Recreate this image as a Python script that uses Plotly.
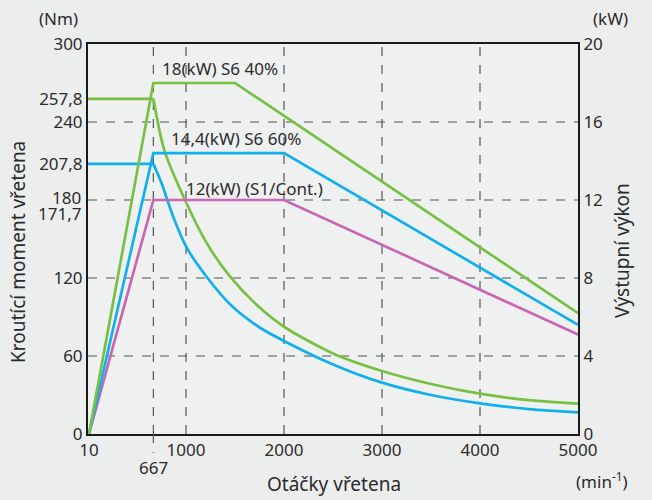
import plotly.graph_objects as go

# ---- data ----
x_ticks = [10, 1000, 2000, 3000, 4000, 5000]
x_tick_text = ["10", "1000", "2000", "3000", "4000", "5000"]
x_special = 667
x_grid = [667, 1000, 2000, 3000, 4000]

y_ticks = [0, 60, 120, 207.8, 240, 257.8, 300]
y_tick_text = ["0", "60", "120", "207,8", "240", "257,8", "300"]
y_close_ticks = [180, 171.7]
y_close_text = ["180", "171,7"]
y_grid = [60, 120, 180, 240]

y2_ticks = [0, 4, 8, 12, 16, 20]

# torque curves (Nm)
torque40_x = [0, 667, 780, 990, 1210, 1450, 1740, 2000, 2500, 3000, 3500, 4000, 4500, 5000]
torque40_y = [257.8, 257.8, 218, 180, 147, 121, 98, 82.5, 62, 48.5, 38.5, 31, 26, 23.3]
torque60_x = [0, 667, 750, 870, 1010, 1210, 1460, 1740, 2040, 2500, 3000, 3500, 4000, 4500, 5000]
torque60_y = [207.8, 207.8, 193, 167, 143, 121, 99, 82.5, 70, 53.5, 39.5, 30, 23.6, 19.2, 16.7]

# power curves (kW)
power40_x = [10, 667, 1500, 5000]
power40_y = [0, 18, 18, 6.2]
power60_x = [10, 667, 2000, 5000]
power60_y = [0, 14.4, 14.4, 5.6]
powerS1_x = [10, 667, 2000, 5000]
powerS1_y = [0, 12, 12, 5.1]

GREEN = "#78c043"
BLUE = "#11afec"
PINK = "#c966b4"
TXT = "#2b2b2b"
BG = "#eceeee"
FONT = "Noto Sans"

# plot-area geometry in pixels (for converting annotation positions)
L, R, T, B = 88, 578, 44, 434
W, H = R - L, B - T


def px(x):
    return (x - L) / W


def py(y):
    return (B - y) / H


fig = go.Figure()

lw = 2.7
for tx, ty, col in [(torque40_x, torque40_y, GREEN), (torque60_x, torque60_y, BLUE)]:
    fig.add_trace(go.Scatter(x=tx[:2], y=ty[:2], mode="lines", line=dict(color=col, width=lw)))
    fig.add_trace(go.Scatter(x=tx[1:], y=ty[1:], mode="lines",
                             line=dict(color=col, width=lw, shape="spline", smoothing=0.8)))
fig.add_trace(go.Scatter(x=powerS1_x, y=powerS1_y, mode="lines", yaxis="y2",
                         line=dict(color=PINK, width=lw)))
fig.add_trace(go.Scatter(x=power60_x, y=power60_y, mode="lines", yaxis="y2",
                         line=dict(color=BLUE, width=lw)))
fig.add_trace(go.Scatter(x=power40_x, y=power40_y, mode="lines", yaxis="y2",
                         line=dict(color=GREEN, width=lw)))

shapes = []
for gx in x_grid:
    shapes.append(dict(type="line", xref="x", yref="y", x0=gx, x1=gx, y0=0, y1=300,
                       line=dict(color="#555", width=1.2, dash="dash"), layer="below"))
for gy in y_grid:
    shapes.append(dict(type="line", xref="x", yref="y", x0=0, x1=5000, y0=gy, y1=gy,
                       line=dict(color="#555", width=1.2, dash="dash"), layer="below"))
# leader below the axis for 667
shapes.append(dict(type="line", xref="x", yref="paper", x0=x_special, x1=x_special, y0=0, y1=py(453),
                   line=dict(color="#555", width=1.2, dash="dash")))

f17 = dict(size=17, color=TXT, family=FONT)
f19 = dict(size=19, color=TXT, family=FONT)
annotations = [
    dict(text="18(kW) S6 40%", x=735, y=281.5, xref="x", yref="y", xanchor="left", yanchor="middle",
         showarrow=False, font=f17),
    dict(text="14,4(kW) S6 60%", x=827, y=227, xref="x", yref="y", xanchor="left", yanchor="middle",
         showarrow=False, font=f17),
    dict(text="12(kW) (S1/Cont.)", x=980, y=189, xref="x", yref="y", xanchor="left", yanchor="middle",
         showarrow=False, font=f17),
    dict(text=str(x_special), x=x_special, y=py(468), xref="x", yref="paper", xanchor="center",
         yanchor="middle", showarrow=False, font=f17),
    dict(text="(Nm)", x=px(58), y=py(18), xref="paper", yref="paper", xanchor="center",
         yanchor="middle", showarrow=False, font=f17),
    dict(text="(kW)", x=px(610), y=py(18), xref="paper", yref="paper", xanchor="center",
         yanchor="middle", showarrow=False, font=f17),
    dict(text="(min<sup>-1</sup>)", x=px(602), y=py(480), xref="paper", yref="paper",
         xanchor="center", yanchor="middle", showarrow=False, font=f17),
    dict(text="Kroutící moment vřetena", x=px(18), y=py(252), xref="paper", yref="paper",
         xanchor="center", yanchor="middle", textangle=-90, showarrow=False, font=f19),
    dict(text="Výstupní výkon", x=px(622), y=py(251), xref="paper", yref="paper",
         xanchor="center", yanchor="middle", textangle=-90, showarrow=False, font=f19),
    dict(text="Otáčky vřetena", x=px(334), y=py(484), xref="paper", yref="paper",
         xanchor="center", yanchor="middle", showarrow=False, font=f19),
]
# the two close tick labels, nudged apart as in the reference
for val, txt, shift in zip(y_close_ticks, y_close_text, [3, -3]):
    annotations.append(dict(text=txt, x=px(83), y=val, xref="paper", yref="y", xanchor="right",
                            yanchor="middle", yshift=shift, showarrow=False, font=f17))

fig.update_layout(
    width=652, height=500,
    margin=dict(l=L, r=652 - R, t=T, b=500 - B),
    paper_bgcolor=BG,
    plot_bgcolor="#eff1f1",
    showlegend=False,
    font=dict(family=FONT, size=17, color=TXT),
    shapes=shapes,
    annotations=annotations,
    xaxis=dict(range=[0, 5000], tickvals=x_ticks, ticktext=x_tick_text, showgrid=False,
               zeroline=False, showline=True, linecolor="#1a1a1a", linewidth=2, mirror=True,
               ticks="", tickfont=f17),
    yaxis=dict(range=[0, 300], tickvals=y_ticks, ticktext=y_tick_text, showgrid=False,
               zeroline=False, showline=True, linecolor="#1a1a1a", linewidth=2,
               ticks="", tickfont=f17),
    yaxis2=dict(range=[0, 20], tickvals=y2_ticks, overlaying="y", side="right", showgrid=False,
                zeroline=False, showline=True, linecolor="#1a1a1a", linewidth=2,
                ticks="", tickfont=f17),
)

fig.write_html(
    "out.html",
    config={"displayModeBar": False},
    post_script="document.body.style.margin='0';document.body.style.background='%s';" % BG,
)
